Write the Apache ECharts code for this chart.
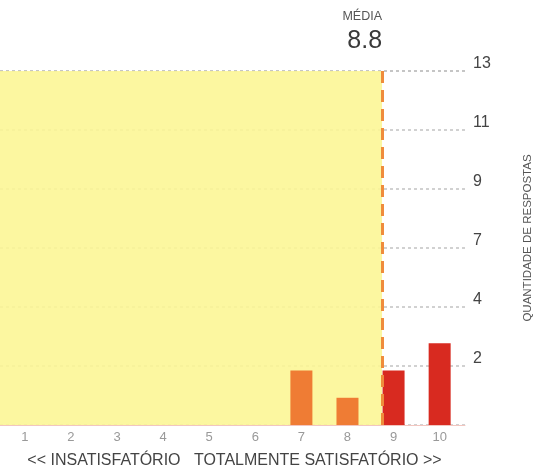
<!DOCTYPE html>
<html>
<head>
<meta charset="utf-8">
<script src="https://cdn.jsdelivr.net/npm/echarts@6/dist/echarts.min.js"></script>
<style>
  html, body { margin: 0; padding: 0; background: #fff; }
  #chart { width: 544px; height: 474px; }
</style>
</head>
<body>
<div id="chart"></div>
<script>
// notas de 1 a 10 e quantidade de respostas
var scores = [1, 2, 3, 4, 5, 6, 7, 8, 9, 10];
var counts = [0, 0, 0, 0, 0, 0, 2, 1, 2, 3];
var yMax = 13;
var xTitle = '<< INSATISFATÓRIO   TOTALMENTE SATISFATÓRIO >>';
var yTitle = 'QUANTIDADE DE RESPOSTAS';
var meanTitle = 'MÉDIA';

// media ponderada das respostas
var total = 0, sum = 0;
for (var i = 0; i < scores.length; i++) {
    total += counts[i];
    sum += scores[i] * counts[i];
}
var mean = sum / total;

var fig = {
    plot_chart: null,

    init: function() {
        var option = {
            animation: false,
            grid: {
                left: 0,
                right: 79,
                top: 71,
                bottom: 43
            },
            xAxis: {
                type: 'value',
                min: 0.46,
                max: 10.55,
                axisLine: { show: true, lineStyle: { color: '#f2c6c0', width: 1 } },
                axisTick: { show: false },
                splitLine: { show: false },
                axisLabel: {
                    customValues: scores,
                    color: '#999',
                    fontSize: 13,
                    margin: 6,
                    fontFamily: 'Liberation Sans'
                },
                name: xTitle,
                nameLocation: 'middle',
                nameGap: 28,
                nameTextStyle: {
                    color: '#444',
                    fontSize: 16,
                    padding: [0, 0, 0, 4],
                    fontFamily: 'Liberation Sans'
                }
            },
            yAxis: {
                type: 'value',
                position: 'right',
                min: 0,
                max: yMax,
                interval: yMax / 6,
                axisLine: { show: false },
                axisTick: { show: false },
                splitLine: {
                    show: true,
                    lineStyle: { color: '#c2c2c2', type: [3, 3], width: 1.5 }
                },
                axisLabel: {
                    margin: 8,
                    color: '#444',
                    fontSize: 16,
                    verticalAlign: 'bottom',
                    lineHeight: 14,
                    fontFamily: 'Liberation Sans',
                    formatter: function(v) {
                        if (v < 0.5) return '';
                        return Math.round(v + 1e-6);
                    }
                }
            },
            graphic: [{
                type: 'text',
                x: 528,
                y: 238,
                rotation: Math.PI / 2,
                style: {
                    text: yTitle,
                    fill: '#555',
                    fontSize: 11.5,
                    fontFamily: 'Liberation Sans',
                    align: 'center',
                    verticalAlign: 'middle'
                }
            }],
            series: [
                {
                    // area amarela ate a media
                    type: 'line',
                    data: [],
                    clip: false,
                    silent: true,
                    markArea: {
                        silent: true,
                        itemStyle: { color: 'rgba(252, 246, 150, 0.9)' },
                        data: [[
                            { xAxis: 0.46, yAxis: 0 },
                            { xAxis: mean, yAxis: yMax }
                        ]]
                    }
                },
                {
                    type: 'bar',
                    z: 2,
                    barWidth: 22,
                    data: scores.map(function(s, i) {
                        return {
                            value: [s, counts[i]],
                            itemStyle: { color: s >= 9 ? '#d82a20' : '#ef7c34' }
                        };
                    }),
                    // linha tracejada da media
                    markLine: {
                        silent: true,
                        symbol: 'none',
                        z: 3,
                        lineStyle: { color: '#ef8c3c', type: [12, 7], width: 3 },
                        label: {
                            show: true,
                            position: 'end',
                            align: 'right',
                            distance: 16,
                            formatter: function() {
                                return '{a|' + meanTitle + '}\n{b|' + mean.toFixed(1) + '}';
                            },
                            rich: {
                                a: { fontSize: 12.5, color: '#555', lineHeight: 20, align: 'right', fontFamily: 'Liberation Sans' },
                                b: { fontSize: 25, color: '#3a3a3a', lineHeight: 28, align: 'right', fontFamily: 'Liberation Sans' }
                            }
                        },
                        data: [{ xAxis: mean }]
                    }
                }
            ]
        };

        this.plot_chart = echarts.init(document.getElementById('chart'));
        this.plot_chart.setOption(option);
    }
};

fig.init();
</script>
</body>
</html>
